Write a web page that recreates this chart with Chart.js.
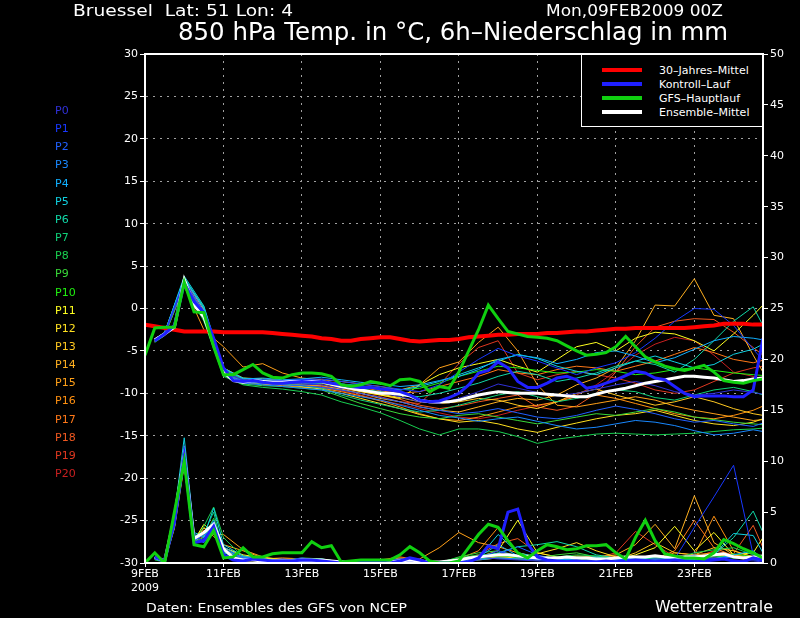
<!DOCTYPE html>
<html><head><meta charset="utf-8">
<script src="https://cdn.jsdelivr.net/npm/chart.js@4.4.1/dist/chart.umd.min.js"></script>
<style>
html,body{margin:0;padding:0;background:#000;}
#wrap{position:relative;width:800px;height:618px;background:#000;overflow:hidden;font-family:"DejaVu Sans",sans-serif;color:#fff;}
#c{position:absolute;left:0;top:0;}
.t{position:absolute;white-space:pre;line-height:1;transform-origin:0 0;}
#leg{position:absolute;left:581px;top:54px;width:180px;height:71px;border:1px solid #fff;background:#000;}
.lr{position:absolute;left:20px;width:40px;height:4px;}
.lt{position:absolute;left:77px;font-size:11px;line-height:1;white-space:pre;}
</style></head><body>
<div id="wrap">
<canvas id="c" width="800" height="618"></canvas>
<div class="t" style="left:73px;top:4px;font-size:15px" data-w="220">Bruessel  Lat: 51 Lon: 4</div>
<div class="t" style="left:546px;top:4px;font-size:15px" data-w="177">Mon,09FEB2009 00Z</div>
<div class="t" style="left:178px;top:19px;font-size:25px" data-w="550">850 hPa Temp. in °C, 6h–Niederschlag in mm</div>
<div id="plabels"></div>
<div id="leg">
  <div class="lr" style="top:13px;background:#ff0000"></div><div class="lt" style="top:10px">30–Jahres–Mittel</div>
  <div class="lr" style="top:27px;background:#2020ff"></div><div class="lt" style="top:24px">Kontroll–Lauf</div>
  <div class="lr" style="top:41px;background:#10d010"></div><div class="lt" style="top:38px">GFS–Hauptlauf</div>
  <div class="lr" style="top:55px;background:#ffffff"></div><div class="lt" style="top:52px">Ensemble–Mittel</div>
</div>
<div class="t" style="left:146px;top:602px;font-size:12px" data-w="261">Daten: Ensembles des GFS von NCEP</div>
<div class="t" style="left:655px;top:600px;font-size:15px" data-w="118">Wetterzentrale</div>
</div>
<script>
// ---- time axis (hours after 09FEB2009 00Z) ----
const HOURS = [0,6,12,18,24,30,36,42,48,54,60,66,72,78,84,90,96,102,108,114,120,126,132,138,144,150,156,162,168,174,180,186,192,198,204,210,216,222,228,234,240,246,252,258,264,270,276,282,288,294,300,306,312,318,324,330,336,342,348,354,360,366,372,378];
const XTICK_HOURS = [0,48,96,144,192,240,288,336];
const XTICK_LABELS = [["9FEB","2009"],"11FEB","13FEB","15FEB","17FEB","19FEB","21FEB","23FEB"];
const PERT_NAMES = ["P0","P1","P2","P3","P4","P5","P6","P7","P8","P9","P10","P11","P12","P13","P14","P15","P16","P17","P18","P19","P20"];
const PERT_COLORS = ['#3030d8','#1838ff','#2060ff','#1888ff','#10b0ff','#10d0e0','#10d8a8','#10d078','#18d050','#38d838','#20f010','#ffff20','#ffe020','#ffc820','#ffb020','#ffa018','#ff9010','#ff7818','#f05820','#e03820','#c82020'];

// ---- 850 hPa temperature, 6-hourly main runs ----
const CLIM_T = [-1.9,-2.1,-2.3,-2.5,-2.7,-2.7,-2.7,-2.7,-2.8,-2.8,-2.8,-2.8,-2.8,-2.9,-3.0,-3.1,-3.2,-3.3,-3.5,-3.6,-3.8,-3.8,-3.6,-3.5,-3.4,-3.4,-3.6,-3.8,-3.9,-3.8,-3.7,-3.7,-3.6,-3.4,-3.3,-3.2,-3.1,-3.1,-3.0,-3.0,-3.0,-2.9,-2.9,-2.8,-2.7,-2.7,-2.6,-2.5,-2.4,-2.4,-2.3,-2.3,-2.3,-2.3,-2.3,-2.3,-2.2,-2.1,-2.0,-1.8,-1.8,-1.8,-1.9,-1.9];
const CTRL_T = [null,-3.8,-3.0,-2.0,3.0,0.8,-0.5,-3.5,-7.0,-8.5,-8.6,-8.5,-8.7,-8.8,-8.8,-8.7,-8.6,-8.7,-8.6,-8.8,-9.0,-9.2,-9.3,-9.3,-9.5,-9.6,-9.8,-10.2,-10.8,-11.0,-10.9,-10.5,-10.0,-9.0,-7.6,-7.3,-6.3,-7.0,-8.6,-9.3,-9.3,-8.8,-8.2,-8.0,-8.4,-9.4,-9.2,-8.8,-8.4,-7.9,-7.4,-7.6,-8.2,-8.4,-9.2,-10.0,-10.4,-10.3,-10.3,-10.3,-10.4,-10.4,-9.6,-3.5];
const GFS_T = [-5.5,-2.3,-2.2,-2.2,3.1,-0.4,-0.5,-4.5,-7.8,-7.8,-7.2,-6.6,-7.6,-8.1,-8.2,-7.8,-7.6,-7.6,-7.7,-8.0,-9.0,-9.2,-9.0,-8.6,-8.8,-9.1,-8.4,-8.3,-8.6,-9.8,-9.2,-9.4,-7.5,-5.0,-2.5,0.4,-1.2,-2.7,-3.0,-3.3,-3.4,-3.5,-3.8,-4.4,-5.0,-5.5,-5.4,-5.2,-4.5,-3.3,-4.5,-5.7,-6.3,-6.8,-7.1,-7.3,-7.0,-6.7,-7.5,-8.5,-8.7,-8.8,-8.5,-8.3];
const MEAN_T = [null,-3.7,-3.0,-2.2,3.4,0.4,-1.0,-4.2,-7.5,-8.5,-8.7,-8.5,-8.6,-8.7,-8.7,-8.6,-8.6,-8.6,-8.6,-8.9,-9.2,-9.4,-9.6,-9.8,-10.0,-10.0,-10.1,-10.3,-10.8,-11.0,-11.0,-11.0,-10.8,-10.5,-10.2,-10.0,-9.8,-9.9,-10.0,-10.0,-10.0,-10.1,-10.2,-10.3,-10.4,-10.4,-10.1,-9.8,-9.6,-9.4,-9.1,-8.8,-8.6,-8.4,-8.2,-8.0,-8.0,-8.1,-8.2,-8.4,-8.6,-8.5,-8.3,-8.2];

// ---- 6h precipitation (mm), 6-hourly main runs ----
const GFS_P = [0,1.0,0.0,5.0,10.0,1.8,1.6,3.2,0.5,0.6,1.5,0.6,0.6,0.9,1.0,1.0,1.0,2.1,1.5,1.7,0.1,0.2,0.3,0.3,0.3,0.3,0.8,1.6,1.0,0.2,0.0,0.0,0.2,1.5,2.8,3.8,3.5,2.2,1.0,0.5,1.2,1.8,1.6,1.3,1.4,1.7,1.7,1.8,1.0,0.4,2.5,4.2,2.2,0.9,0.7,0.5,0.5,0.4,1.0,2.3,1.9,1.4,1.0,0.5];
const CTRL_P = [null,0.6,0.2,4.0,10.5,2.0,2.2,3.6,0.8,0.3,0.2,0.4,0.3,0.2,0.2,0.2,0.3,0.3,0.2,0.1,0.0,0.0,0.1,0.2,0.1,0.0,0.2,0.5,0.3,0.0,0.0,0.0,0.0,0.1,0.5,1.7,1.4,5.0,5.3,1.9,0.6,0.3,0.2,0.1,0.2,0.1,0.1,0.2,0.1,0.2,0.3,0.2,0.1,0.2,0.3,0.2,0.1,0.2,0.3,0.4,0.2,0.1,0.5,0.3];
const MEAN_P = [null,0.6,0.2,4.5,10.5,2.4,3.0,3.8,1.4,0.5,0.3,0.3,0.2,0.2,0.2,0.2,0.3,0.3,0.3,0.2,0.1,0.1,0.1,0.2,0.2,0.1,0.2,0.3,0.2,0.1,0.1,0.2,0.3,0.5,0.6,0.7,0.8,0.8,0.7,0.6,0.5,0.5,0.5,0.6,0.5,0.5,0.4,0.4,0.5,0.6,0.6,0.6,0.7,0.6,0.6,0.6,0.6,0.7,0.8,0.9,0.6,0.5,0.6,0.7];

// ---- perturbation runs: temperature ----
const PT_HOURS = [6,12,24,36,48,60,72,84,96,108,120,132,144,156,168,180,192,204,216,228,240,252,264,276,288,300,312,324,336,348,360,372,378];
const P0_T = [-3.9,-3.1,3.0,-0.8,-7.6,-8.4,-8.6,-8.8,-8.9,-9.0,-9.4,-9.6,-9.9,-10.4,-11.0,-11.2,-10.6,-9.8,-8.9,-9.4,-9.9,-10.3,-10.0,-9.5,-9.0,-8.6,-9.1,-9.8,-10.2,-10.0,-9.6,-9.9,-10.1];
const P1_T = [-3.7,-2.9,3.3,-0.3,-7.3,-8.5,-8.4,-8.5,-8.4,-8.3,-8.6,-8.9,-9.2,-9.5,-9.8,-9.0,-7.5,-6.0,-4.7,-5.6,-6.2,-7.0,-7.8,-7.0,-6.4,-5.2,-3.5,-1.5,0.0,-0.1,-2.0,-4.8,-6.1];
const P2_T = [-3.8,-3.0,3.1,-0.6,-7.5,-8.7,-8.8,-9.0,-9.1,-9.3,-9.6,-10.0,-10.5,-11.0,-11.6,-12.0,-12.4,-12.2,-11.8,-12.3,-12.8,-13.0,-12.6,-12.0,-11.5,-11.9,-12.4,-13.0,-13.4,-13.2,-13.6,-13.9,-13.5];
const P3_T = [-3.9,-3.1,2.9,-0.9,-7.8,-8.8,-9.0,-9.2,-9.4,-9.6,-10.0,-10.4,-10.8,-11.4,-12.0,-12.6,-12.9,-13.3,-13.0,-12.8,-13.3,-13.8,-14.2,-14.0,-13.6,-13.2,-13.4,-13.8,-14.4,-14.9,-14.7,-14.3,-14.5];
const P4_T = [-3.6,-2.8,3.5,0.0,-7.0,-8.3,-8.2,-8.4,-8.3,-8.1,-8.4,-8.7,-8.9,-9.2,-9.0,-8.5,-8.0,-7.2,-6.0,-5.5,-5.8,-6.5,-6.0,-5.2,-5.0,-5.6,-6.4,-5.8,-4.8,-3.8,-3.3,-3.5,-3.7];
const P5_T = [-3.7,-2.9,3.8,0.3,-7.1,-8.2,-8.4,-8.5,-8.4,-8.5,-8.9,-9.1,-9.4,-9.6,-9.2,-8.6,-7.8,-7.0,-6.2,-5.4,-5.9,-6.8,-7.4,-7.8,-7.0,-6.2,-5.6,-6.3,-7.0,-6.6,-5.4,-4.8,-4.2];
const P6_T = [-3.8,-3.0,3.6,0.1,-7.4,-8.6,-8.7,-8.8,-8.9,-8.8,-9.1,-9.5,-9.8,-10.2,-10.4,-10.0,-9.4,-8.8,-8.0,-7.4,-7.8,-8.6,-8.2,-7.6,-6.8,-6.2,-6.6,-7.5,-6.0,-3.8,-1.5,0.2,-2.0];
const P7_T = [-3.8,-3.0,3.0,-0.5,-7.7,-8.7,-8.8,-8.9,-9.1,-9.4,-10.2,-10.8,-11.3,-11.8,-12.2,-12.0,-11.4,-10.8,-10.2,-9.8,-10.4,-11.0,-10.6,-10.0,-9.6,-9.8,-10.5,-10.8,-10.2,-9.6,-9.3,-9.8,-10.2];
const P8_T = [-4.0,-3.2,2.7,-1.5,-8.0,-9.0,-9.3,-9.5,-9.8,-10.2,-11.0,-11.6,-12.3,-13.2,-14.2,-14.9,-14.2,-14.2,-14.5,-15.1,-15.9,-15.4,-15.1,-14.8,-14.7,-14.8,-14.9,-14.8,-14.7,-14.5,-14.3,-14.2,-14.1];
const P9_T = [-3.9,-3.1,2.8,-1.2,-7.9,-8.9,-9.1,-9.2,-9.4,-9.6,-10.4,-11.2,-11.8,-12.4,-12.8,-13.0,-12.6,-12.4,-12.8,-13.2,-13.6,-13.2,-12.8,-12.4,-12.6,-12.2,-11.8,-12.2,-12.8,-13.1,-13.4,-13.6,-13.7];
const P10_T = [-3.7,-2.9,3.4,0.2,-7.2,-8.4,-8.5,-8.6,-8.5,-8.6,-8.9,-9.2,-9.5,-9.6,-9.4,-8.8,-8.0,-7.4,-6.8,-7.0,-7.3,-7.6,-7.5,-7.2,-7.4,-7.8,-7.6,-7.2,-7.0,-7.3,-7.6,-7.8,-7.9];
const P11_T = [-3.6,-2.8,3.5,-0.2,-7.0,-8.2,-8.3,-8.5,-8.6,-8.8,-9.3,-9.8,-10.2,-10.6,-9.0,-7.8,-7.0,-6.5,-6.0,-6.8,-7.5,-6.0,-4.5,-4.0,-5.0,-3.5,-2.8,-3.0,-3.8,-5.0,-3.0,-0.8,0.4];
const P12_T = [-3.8,-3.0,3.0,-0.6,-7.6,-8.7,-8.9,-9.0,-9.2,-9.5,-10.0,-10.6,-11.2,-11.8,-12.5,-13.0,-13.4,-13.2,-13.6,-14.2,-14.6,-14.0,-13.5,-13.0,-12.6,-12.4,-12.0,-12.6,-13.2,-13.6,-13.8,-13.4,-13.0];
const P13_T = [-3.7,-2.9,3.2,-0.3,-7.4,-8.5,-8.6,-8.6,-8.7,-8.8,-9.2,-9.7,-10.1,-10.5,-11.0,-11.2,-11.0,-10.6,-10.8,-11.4,-11.8,-11.0,-10.0,-9.5,-10.2,-10.8,-11.4,-11.0,-10.4,-11.0,-11.8,-12.4,-12.6];
const P14_T = [-3.8,-3.0,3.0,-1.0,-7.5,-8.6,-8.7,-8.8,-9.0,-9.1,-9.5,-10.0,-10.6,-11.0,-11.6,-12.0,-12.2,-11.6,-11.0,-10.6,-10.8,-10.2,-9.0,-8.2,-7.0,-3.8,0.4,0.3,3.5,-0.8,-1.2,-5.5,-7.5];
const P15_T = [-3.9,-3.2,2.6,-2.5,-4.5,-6.9,-6.5,-7.6,-8.2,-8.4,-8.6,-8.9,-9.2,-9.6,-9.0,-7.0,-6.3,-4.0,-2.2,-5.0,-9.0,-11.4,-11.6,-11.2,-10.8,-10.4,-10.8,-11.5,-12.0,-12.4,-12.8,-13.2,-13.1];
const P16_T = [-3.8,-3.0,3.1,-0.7,-7.6,-8.7,-8.9,-9.1,-9.3,-9.4,-9.8,-10.3,-10.9,-11.6,-12.4,-13.0,-13.2,-12.8,-12.2,-11.6,-11.4,-11.0,-10.4,-10.2,-10.6,-11.2,-11.8,-12.4,-12.8,-13.0,-12.6,-12.0,-11.5];
const P17_T = [-3.7,-2.9,3.3,-0.2,-7.2,-8.4,-8.5,-8.7,-8.6,-8.7,-9.0,-9.3,-9.7,-10.0,-9.8,-9.2,-8.6,-8.0,-7.2,-7.6,-7.8,-7.2,-6.8,-7.0,-7.4,-6.8,-6.2,-5.4,-4.6,-5.2,-6.0,-6.4,-6.1];
const P18_T = [-3.8,-3.0,3.2,-0.4,-7.4,-8.6,-8.7,-8.8,-8.8,-9.0,-9.4,-9.8,-10.2,-10.7,-11.4,-11.8,-11.5,-11.0,-10.6,-10.2,-11.6,-12.0,-11.5,-10.0,-7.5,-4.5,-2.2,-1.5,-1.2,-1.3,-2.8,-4.6,-5.5];
const P19_T = [-3.9,-3.1,3.0,-0.6,-7.6,-8.8,-8.8,-8.9,-9.0,-9.2,-9.6,-10.0,-10.4,-11.0,-11.2,-9.0,-6.5,-4.6,-3.8,-7.6,-8.4,-7.8,-7.4,-7.8,-8.2,-8.8,-9.6,-10.0,-9.6,-8.6,-7.6,-7.0,-6.8];
const P20_T = [-3.8,-3.0,3.1,-0.5,-7.5,-8.6,-8.8,-8.9,-9.0,-9.3,-9.7,-10.2,-10.8,-11.3,-11.8,-12.3,-12.8,-13.0,-12.6,-12.0,-11.5,-11.0,-10.2,-9.0,-7.4,-5.5,-4.2,-3.4,-3.8,-5.5,-7.5,-8.0,-8.4];

// ---- perturbation runs: 6h precipitation ----
const PP_HOURS = [6,12,18,24,30,36,42,48,60,72,84,96,108,120,132,144,156,168,180,192,204,216,228,240,252,264,276,288,300,312,324,336,348,360,372,378];
const P0_P = [0.5,0.2,4.2,10.2,2.0,2.4,3.2,1.2,0.3,0.2,0.4,0.2,0.1,0.0,0.1,0.2,0.3,0.1,0.0,0.3,0.6,0.4,0.3,0.2,0.1,0.3,0.2,0.1,0.2,0.4,0.3,0.2,0.5,0.3,0.2,0.1];
const P1_P = [0.4,0.2,3.8,10.8,2.6,2.2,4.0,0.8,0.4,0.3,0.2,0.5,0.2,0.0,0.0,0.1,0.2,0.0,0.0,0.2,0.5,1.2,0.6,0.3,0.2,0.1,0.2,0.3,0.1,0.2,0.4,3.5,6.5,9.6,0.8,0.3];
const P2_P = [0.5,0.2,4.0,10.0,2.2,2.8,3.0,1.4,0.5,0.3,0.2,0.2,0.3,0.1,0.1,0.2,0.4,0.2,0.0,0.1,0.4,0.9,1.6,0.8,0.3,0.2,0.4,0.3,0.5,0.2,0.3,0.8,0.4,0.6,0.3,0.2];
const P3_P = [0.4,0.1,3.6,11.0,2.4,2.0,3.4,1.0,0.6,0.4,0.2,0.3,0.2,0.1,0.1,0.1,0.2,0.1,0.0,0.2,0.3,0.5,0.4,0.3,0.5,0.3,0.2,0.4,0.2,0.3,0.5,0.3,0.4,0.6,0.5,0.3];
const P4_P = [0.5,0.2,4.4,11.5,2.8,2.5,4.2,1.6,0.5,0.3,0.3,0.2,0.2,0.0,0.1,0.2,0.3,0.2,0.1,0.3,0.6,1.8,0.7,0.4,0.3,0.5,0.6,0.3,0.2,0.4,0.3,0.5,0.4,0.8,1.2,0.4];
const P5_P = [0.6,0.3,4.8,12.3,3.0,2.6,5.4,1.8,0.7,0.3,0.2,0.3,0.4,0.1,0.2,0.2,0.3,0.1,0.0,0.2,0.5,2.8,1.0,0.6,0.4,0.3,0.2,0.4,0.3,0.6,0.5,0.4,0.8,2.9,2.7,1.0];
const P6_P = [0.5,0.2,4.5,11.0,2.6,3.0,3.8,1.2,0.5,0.4,0.3,0.2,0.2,0.1,0.1,0.3,0.2,0.2,0.1,0.3,0.6,1.0,1.6,1.8,2.1,1.6,0.8,0.5,0.4,0.3,0.5,0.6,0.8,2.5,5.1,3.0];
const P7_P = [0.4,0.2,3.9,10.4,2.3,2.9,5.0,1.0,0.4,0.2,0.2,0.3,0.2,0.1,0.0,0.1,0.2,0.1,0.0,0.2,0.4,0.5,0.4,0.3,0.3,0.6,0.5,0.3,0.2,0.5,0.4,0.3,0.6,0.5,0.4,0.3];
const P8_P = [0.3,0.1,3.5,9.8,2.0,3.6,5.5,2.5,0.6,0.3,0.3,0.4,0.3,0.2,0.1,0.2,0.3,0.2,0.1,0.5,0.8,0.9,0.5,0.4,0.6,0.8,0.7,0.4,0.3,0.2,0.4,1.0,1.3,1.5,0.8,0.5];
const P9_P = [0.4,0.2,3.7,10.0,2.1,2.5,4.4,1.4,0.5,0.3,0.2,0.5,0.4,0.1,0.2,0.3,0.2,0.1,0.0,0.6,1.0,1.2,0.7,0.5,0.8,1.0,0.6,0.3,0.5,0.4,0.3,0.6,0.7,0.5,0.6,0.4];
const P10_P = [0.5,0.2,4.1,10.6,2.4,2.7,3.6,1.1,0.4,0.3,0.2,0.3,0.2,0.1,0.1,0.2,0.3,0.1,0.0,0.3,0.5,0.7,0.6,0.4,0.3,0.4,0.3,0.5,0.4,0.3,0.6,0.5,0.4,0.9,0.6,0.3];
const P11_P = [0.4,0.2,3.8,10.3,2.2,3.8,3.0,1.5,0.8,0.5,0.3,0.4,0.3,0.1,0.1,0.2,0.2,0.1,0.0,0.2,0.6,1.2,4.2,1.0,0.6,0.5,0.4,0.3,0.8,1.5,3.6,1.2,3.0,0.8,1.0,2.5];
const P12_P = [0.4,0.2,3.6,9.9,2.0,3.0,3.2,1.3,0.5,0.3,0.3,0.2,0.2,0.1,0.1,0.2,0.3,0.1,0.0,0.2,0.4,0.6,0.5,0.9,1.4,2.0,1.2,0.6,0.4,0.5,0.6,0.4,0.8,0.6,0.5,0.6];
const P13_P = [0.5,0.2,4.0,10.4,2.5,3.4,3.3,1.2,0.6,0.4,0.4,0.3,0.2,0.1,0.1,0.3,0.4,0.2,0.1,0.3,0.5,0.7,0.6,0.4,0.5,0.6,0.4,0.3,1.0,2.0,1.0,0.8,1.5,1.2,0.6,0.4];
const P14_P = [0.4,0.1,3.4,9.6,1.8,3.5,2.6,1.8,1.2,0.5,0.4,0.3,0.2,0.1,0.0,0.1,0.2,0.0,0.0,0.2,0.3,0.5,0.4,0.3,0.5,0.7,0.6,0.8,1.8,3.8,1.4,6.6,2.0,0.8,0.5,0.3];
const P15_P = [0.4,0.2,3.5,9.8,2.0,3.2,2.8,2.8,1.3,0.6,0.3,0.2,0.2,0.1,0.1,0.2,0.3,0.4,1.5,3.0,2.0,1.6,1.0,0.6,0.5,0.4,0.3,0.5,0.4,0.6,0.5,0.8,1.0,0.5,0.4,0.3];
const P16_P = [0.5,0.2,3.7,10.1,2.2,2.9,3.1,1.5,0.7,0.4,0.5,0.4,0.3,0.1,0.1,0.2,0.5,0.2,0.1,0.4,1.2,3.5,1.0,0.5,0.3,0.4,0.5,0.3,0.6,0.4,1.0,0.8,4.6,1.2,0.6,0.4];
const P17_P = [0.4,0.2,3.6,10.0,2.1,3.1,2.9,1.2,0.5,0.4,0.3,0.2,0.3,0.1,0.1,0.3,0.6,0.3,0.1,0.2,0.4,0.8,0.6,0.4,0.3,0.5,0.4,0.6,0.5,0.4,1.2,4.2,1.5,0.7,0.5,0.3];
const P18_P = [0.5,0.2,4.2,10.8,2.4,2.7,3.7,1.3,0.5,0.3,0.2,0.3,0.2,0.1,0.1,0.2,0.3,0.2,0.1,0.4,0.8,1.9,2.4,1.0,0.6,0.4,0.5,0.7,0.5,0.4,0.6,0.5,0.7,0.9,3.7,1.5];
const P19_P = [0.5,0.2,4.0,10.6,2.3,2.8,3.6,1.2,0.4,0.3,0.2,0.2,0.2,0.0,0.1,0.2,0.2,0.1,0.0,0.2,0.4,0.5,0.4,0.3,0.5,0.6,0.5,1.0,3.1,1.8,0.6,0.5,1.2,0.8,0.6,0.4];
const P20_P = [0.4,0.2,3.8,10.3,2.2,2.6,3.4,1.2,0.4,0.3,0.2,0.2,0.2,0.1,0.1,0.2,0.3,0.1,0.0,0.2,0.4,0.6,0.5,0.4,0.3,0.4,0.3,0.4,0.5,0.4,0.5,0.6,0.5,0.7,0.5,0.4];

const PERT_T = [P0_T,P1_T,P2_T,P3_T,P4_T,P5_T,P6_T,P7_T,P8_T,P9_T,P10_T,P11_T,P12_T,P13_T,P14_T,P15_T,P16_T,P17_T,P18_T,P19_T,P20_T];
const PERT_P = [P0_P,P1_P,P2_P,P3_P,P4_P,P5_P,P6_P,P7_P,P8_P,P9_P,P10_P,P11_P,P12_P,P13_P,P14_P,P15_P,P16_P,P17_P,P18_P,P19_P,P20_P];

// ---- left-hand member labels ----
const pl = document.getElementById('plabels');
PERT_NAMES.forEach((n,i)=>{
  const d=document.createElement('div');
  d.className='t'; d.textContent=n;
  d.style.left='55px'; d.style.top=(105+i*18.15)+'px'; d.style.fontSize='11px'; d.style.color=PERT_COLORS[i];
  pl.appendChild(d);
});

const zip=(hs,vs)=>hs.map((h,i)=>({x:h,y:vs[i]}));
const datasets=[];
function line(label,hs,vs,color,width,axis,order){
  datasets.push({label,data:zip(hs,vs),borderColor:color,backgroundColor:color,borderWidth:width,yAxisID:axis,order,pointRadius:0,tension:0,fill:false,spanGaps:false});
}
line('GFS-Hauptlauf T',HOURS,GFS_T,'#10d010',3,'yT',1);
line('GFS-Hauptlauf P',HOURS,GFS_P,'#10d010',3,'yP',1);
line('Kontroll-Lauf T',HOURS,CTRL_T,'#2020ff',3,'yT',2);
line('Kontroll-Lauf P',HOURS,CTRL_P,'#2020ff',3,'yP',2);
line('Ensemble-Mittel T',HOURS,MEAN_T,'#ffffff',3,'yT',3);
line('Ensemble-Mittel P',HOURS,MEAN_P,'#ffffff',3,'yP',3);
line('30-Jahres-Mittel',HOURS,CLIM_T,'#ff0000',4,'yT',4);
PERT_T.forEach((v,i)=>line(PERT_NAMES[i]+' T',PT_HOURS,v,PERT_COLORS[i],1,'yT',10+i));
PERT_P.forEach((v,i)=>line(PERT_NAMES[i]+' P',PP_HOURS,v,PERT_COLORS[i],1,'yP',10+i));

const frame={id:'frame',afterDraw(chart){
  const a=chart.chartArea,c=chart.ctx;
  c.save();c.strokeStyle='#fff';c.lineWidth=2;
  c.strokeRect(a.left,a.top,a.right-a.left,a.bottom-a.top);c.restore();
}};

Chart.defaults.font.family='"DejaVu Sans", sans-serif';
new Chart(document.getElementById('c'),{
  type:'line',
  data:{datasets},
  options:{
    responsive:false,animation:false,
    layout:{padding:{top:54,left:0,right:0,bottom:0}},
    plugins:{legend:{display:false},tooltip:{enabled:false}},
    scales:{
      x:{type:'linear',min:0,max:378,
        afterBuildTicks:s=>{s.ticks=XTICK_HOURS.map(v=>({value:v}));},
        afterFit:s=>{s.height=55;},
        ticks:{color:'#fff',font:{size:11},maxRotation:0,autoSkip:false,padding:1,
          callback:(v)=>{const i=XTICK_HOURS.indexOf(v);return i>=0?XTICK_LABELS[i]:'';}},
        grid:{color:'#a0a0a0',lineWidth:1,drawTicks:true,tickLength:4,tickColor:'#fff',tickBorderDash:[]},
        border:{display:true,color:'#fff',width:2,dash:[2,5]}
      },
      yT:{type:'linear',position:'left',min:-30,max:30,
        afterFit:s=>{s.width=145;},
        ticks:{stepSize:5,color:'#fff',font:{size:11},padding:2},
        grid:{color:'#a0a0a0',lineWidth:1,drawTicks:true,tickLength:5,tickColor:'#fff',tickBorderDash:[]},
        border:{display:true,color:'#fff',width:2,dash:[2,5]}
      },
      yP:{type:'linear',position:'right',min:0,max:50,
        afterFit:s=>{s.width=37;},
        ticks:{stepSize:5,color:'#fff',font:{size:11},padding:2},
        grid:{drawOnChartArea:false,drawTicks:true,tickLength:5,tickColor:'#fff',color:'#fff'},
        border:{display:true,color:'#fff',width:2}
      }
    }
  },
  plugins:[frame]
});

document.querySelectorAll('[data-w]').forEach(el=>{
  const w=el.getBoundingClientRect().width;
  if(w>0) el.style.transform='scaleX('+(parseFloat(el.dataset.w)/w)+')';
});
</script>
</body></html>
